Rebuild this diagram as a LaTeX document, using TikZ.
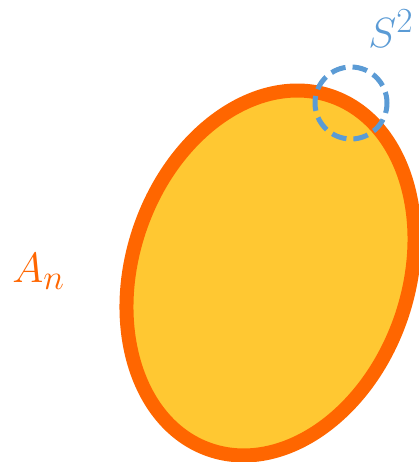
\documentclass[tikz,border=0pt]{standalone}
\usepackage{amsmath}
\definecolor{rimorange}{RGB}{255,102,0}
\definecolor{fillyellow}{RGB}{255,200,50}
\definecolor{sphereblue}{RGB}{91,155,213}
\newcommand{\An}{A_n}
\newcommand{\Stwo}{S^2}

\begin{document}
\begin{tikzpicture}[x=1pt,y=1pt,
  lbl/.style={inner sep=0pt,anchor=base west,font=\Huge,scale=1.7}]
\useasboundingbox (0,0) rectangle (418,462);
\coordinate (ctr) at (270.5,189);
\coordinate (sph) at (351,359);
\filldraw[fill=fillyellow, draw=rimorange, line width=14pt,
	rotate around={71:(ctr)}]
	(ctr) ellipse [x radius=187, y radius=138];
\draw[sphereblue, line width=5pt, dash pattern=on 15pt off 7pt, dash phase=4pt]
	(sph) circle (36);
%
\node[lbl, text=sphereblue] (stwo) at (368,414) {$\Stwo$};
\node[lbl, text=rimorange] (an) at (12,179) {$\An$};
\end{tikzpicture}
\end{document}
